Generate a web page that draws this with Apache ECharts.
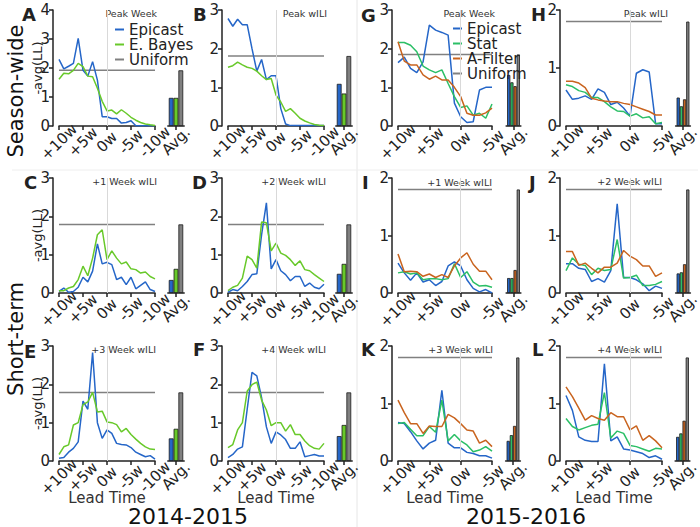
<!DOCTYPE html>
<html>
<head>
  <meta charset="UTF-8">
  <title>Epicast forecast scores</title>
  <style>
    html, body { margin: 0; padding: 0; background: #fff; }
    #chart { width: 700px; height: 527px; }
  </style>
  <script src="https://cdn.jsdelivr.net/npm/echarts@6/dist/echarts.min.js"></script>
</head>
<body>
  <div id="chart"></div>
  <script>
    // lead time (weeks before the target), left season runs +10..-10, right +10..-5
    var leadLeft = [10, 9, 8, 7, 6, 5, 4, 3, 2, 1, 0, -1, -2, -3, -4, -5, -6, -7, -8, -9, -10];
    var leadRight = [10, 9, 8, 7, 6, 5, 4, 3, 2, 1, 0, -1, -2, -3, -4, -5];

    // 2014-2015 : Epicast / E. Bayes ; avg bars = [Epicast, E. Bayes, Uniform]
    var epicastA = [2.30, 1.97, 2.06, 2.16, 3.02, 1.92, 1.72, 2.22, 1.58, 0.32, 0.32, 0.26, 0.26, 0.10, 0.12, 0.18, 0.01, 0.01, 0.01, 0.01, 0.01];
    var ebayesA = [1.61, 1.82, 1.80, 1.92, 2.16, 2.05, 1.72, 1.70, 1.30, 0.85, 0.52, 0.55, 0.42, 0.56, 0.44, 0.30, 0.20, 0.12, 0.07, 0.04, 0.02];
    var avgA = [0.97, 0.97, 1.92];

    var epicastB = [2.78, 2.58, 2.76, 2.62, 2.62, 2.00, 1.42, 1.72, 1.20, 1.30, 1.30, 0.45, 0.05, 0.01, 0.01, 0.01, 0.01, 0.01, 0.01, 0.01, 0.01];
    var ebayesB = [1.52, 1.56, 1.65, 1.58, 1.52, 1.49, 1.42, 1.30, 1.20, 1.23, 0.80, 0.62, 0.38, 0.45, 0.33, 0.20, 0.13, 0.08, 0.04, 0.02, 0.01];
    var avgB = [1.09, 0.84, 1.81];

    var epicastC = [0.04, 0.13, 0.02, 0.04, 0.15, 0.41, 0.29, 0.57, 1.28, 0.76, 0.80, 0.74, 0.35, 0.41, 0.22, 0.41, 0.11, 0.20, 0.29, 0.09, 0.04];
    var ebayesC = [0.06, 0.06, 0.13, 0.17, 0.35, 0.70, 0.45, 0.91, 1.52, 1.65, 0.87, 1.10, 0.91, 0.76, 0.81, 0.63, 0.61, 0.52, 0.55, 0.43, 0.37];
    var avgC = [0.34, 0.63, 1.79];

    var epicastD = [0.02, 0.09, 0.06, 0.17, 0.30, 0.48, 0.50, 1.52, 2.35, 0.63, 0.87, 0.58, 0.48, 0.32, 0.43, 0.43, 0.17, 0.26, 0.15, 0.11, 0.23];
    var ebayesD = [0.06, 0.15, 0.20, 0.39, 0.96, 0.87, 0.65, 1.85, 1.83, 1.10, 1.30, 1.04, 0.98, 0.87, 0.72, 0.84, 0.61, 0.58, 0.48, 0.39, 0.30];
    var avgD = [0.50, 0.76, 1.79];

    var epicastE = [0.07, 0.09, 0.23, 0.33, 0.50, 1.56, 1.35, 2.83, 1.00, 0.59, 0.81, 0.72, 0.46, 0.43, 0.42, 0.35, 0.23, 0.17, 0.11, 0.14, 0.05];
    var ebayesE = [0.17, 0.37, 0.42, 0.94, 1.00, 1.47, 1.54, 1.79, 1.28, 1.30, 1.02, 1.00, 0.95, 0.76, 0.85, 0.69, 0.57, 0.46, 0.37, 0.31, 0.30];
    var avgE = [0.59, 0.84, 1.79];

    var epicastF = [0.09, 0.17, 0.31, 0.37, 1.35, 2.31, 2.22, 1.65, 0.89, 0.46, 0.76, 0.68, 0.56, 0.33, 0.33, 0.50, 0.11, 0.14, 0.17, 0.13, 0.13];
    var ebayesF = [0.35, 0.43, 0.81, 1.00, 1.82, 1.99, 2.06, 1.59, 1.33, 0.92, 1.00, 1.00, 0.78, 0.95, 0.69, 0.69, 0.52, 0.40, 0.33, 0.31, 0.46];
    var avgF = [0.65, 0.94, 1.79];

    // 2015-2016 : Epicast / Stat / A-Filter ; avg bars = [Epicast, Stat, A-Filter, Uniform]
    var epicastG = [1.64, 1.78, 1.49, 1.38, 1.66, 2.61, 2.48, 2.42, 2.35, 0.59, 0.24, 0.09, 0.11, 0.93, 1.00, 1.00];
    var statG = [2.16, 2.16, 2.09, 1.92, 1.55, 1.45, 1.38, 1.45, 1.10, 0.76, 0.48, 0.52, 0.28, 0.33, 0.20, 0.57];
    var afilterG = [2.18, 1.68, 1.58, 1.58, 1.32, 1.21, 1.29, 1.19, 1.19, 1.00, 0.76, 0.33, 0.28, 0.28, 0.34, 0.46];
    var avgG = [1.32, 1.13, 1.03, 1.85];

    var epicastH = [0.62, 0.46, 0.48, 0.52, 0.46, 0.64, 0.58, 0.37, 0.41, 0.31, 0.17, 0.91, 0.97, 0.93, 0.04, 0.04];
    var statH = [0.71, 0.68, 0.61, 0.58, 0.49, 0.49, 0.42, 0.33, 0.26, 0.25, 0.17, 0.21, 0.14, 0.16, 0.04, 0.06];
    var afilterH = [0.77, 0.77, 0.74, 0.66, 0.48, 0.45, 0.43, 0.42, 0.42, 0.39, 0.37, 0.33, 0.29, 0.25, 0.19, 0.19];
    var avgH = [0.49, 0.34, 0.46, 1.80];

    var epicastI = [0.52, 0.35, 0.22, 0.35, 0.19, 0.23, 0.13, 0.20, 0.47, 0.54, 0.47, 0.23, 0.08, 0.02, 0.06, 0.00];
    var statI = [0.35, 0.37, 0.33, 0.35, 0.23, 0.25, 0.25, 0.23, 0.25, 0.51, 0.27, 0.37, 0.19, 0.12, 0.13, 0.10];
    var afilterI = [0.68, 0.37, 0.38, 0.37, 0.29, 0.33, 0.27, 0.32, 0.27, 0.47, 0.61, 0.70, 0.50, 0.38, 0.38, 0.23];
    var avgI = [0.26, 0.26, 0.40, 1.80];

    var epicastJ = [0.51, 0.51, 0.43, 0.41, 0.20, 0.25, 0.19, 0.39, 1.55, 0.27, 0.27, 0.23, 0.16, 0.04, 0.12, 0.08];
    var statJ = [0.39, 0.61, 0.50, 0.48, 0.32, 0.43, 0.39, 0.41, 0.93, 0.26, 0.27, 0.31, 0.13, 0.13, 0.15, 0.20];
    var afilterJ = [0.72, 0.72, 0.48, 0.52, 0.43, 0.35, 0.45, 0.45, 0.52, 0.74, 0.64, 0.58, 0.47, 0.47, 0.29, 0.35];
    var avgJ = [0.34, 0.36, 0.50, 1.80];

    var epicastK = [0.67, 0.65, 0.51, 0.35, 0.21, 0.31, 0.36, 1.23, 0.31, 0.23, 0.23, 0.15, 0.13, 0.09, 0.09, 0.05];
    var statK = [0.65, 0.67, 0.55, 0.44, 0.44, 0.60, 0.50, 1.06, 0.35, 0.46, 0.35, 0.28, 0.16, 0.19, 0.25, 0.17];
    var afilterK = [1.06, 0.84, 0.65, 0.65, 0.48, 0.61, 0.60, 0.60, 0.81, 0.75, 0.65, 0.54, 0.52, 0.31, 0.36, 0.25];
    var avgK = [0.35, 0.45, 0.61, 1.80];

    var epicastL = [1.14, 0.88, 0.42, 0.36, 0.34, 0.34, 1.69, 0.35, 0.42, 0.21, 0.19, 0.16, 0.13, 0.06, 0.09, 0.03];
    var statL = [0.74, 0.60, 0.54, 0.58, 0.62, 0.64, 1.19, 0.40, 0.52, 0.48, 0.27, 0.25, 0.21, 0.17, 0.22, 0.21];
    var afilterL = [1.29, 1.12, 0.92, 0.71, 0.79, 0.74, 0.71, 0.84, 0.77, 0.77, 0.54, 0.61, 0.36, 0.44, 0.35, 0.23];
    var avgL = [0.42, 0.48, 0.70, 1.80];

    var modelsLeft = ['Epicast', 'E. Bayes', 'Uniform'];
    var modelsRight = ['Epicast', 'Stat', 'A-Filter', 'Uniform'];

    var colors = {
      'Epicast': '#2566c8',
      'E. Bayes': '#68c92a',
      'Stat': '#2bbf66',
      'A-Filter': '#c9641f',
      'Uniform': '#808080'
    };

    var ink = '#222';
    var font = 'DejaVu Sans';

    // layout of the 12 panels (plot box + the little Avg. bar box next to it)
    var panels = [
      {lead: leadLeft, x: 59, y: 10, w: 96, h: 116, yMax: 4, barC: 176, lines: [['Epicast', epicastA], ['E. Bayes', ebayesA]], avg: avgA, models: modelsLeft, yName: true},
      {lead: leadLeft, x: 228, y: 10, w: 96, h: 116, yMax: 3, barC: 344, lines: [['Epicast', epicastB], ['E. Bayes', ebayesB]], avg: avgB, models: modelsLeft},
      {lead: leadLeft, x: 59, y: 178, w: 96, h: 115, yMax: 3, barC: 176, lines: [['Epicast', epicastC], ['E. Bayes', ebayesC]], avg: avgC, models: modelsLeft, yName: true},
      {lead: leadLeft, x: 228, y: 178, w: 96, h: 115, yMax: 3, barC: 344, lines: [['Epicast', epicastD], ['E. Bayes', ebayesD]], avg: avgD, models: modelsLeft},
      {lead: leadLeft, x: 59, y: 346, w: 96, h: 115, yMax: 3, barC: 176, lines: [['Epicast', epicastE], ['E. Bayes', ebayesE]], avg: avgE, models: modelsLeft, yName: true, xName: true},
      {lead: leadLeft, x: 228, y: 346, w: 96, h: 115, yMax: 3, barC: 344, lines: [['Epicast', epicastF], ['E. Bayes', ebayesF]], avg: avgF, models: modelsLeft, xName: true},
      {lead: leadRight, x: 398, y: 10, w: 94, h: 116, yMax: 3, barC: 513.5, lines: [['Epicast', epicastG], ['Stat', statG], ['A-Filter', afilterG]], avg: avgG, models: modelsRight},
      {lead: leadRight, x: 566, y: 10, w: 96, h: 116, yMax: 2, barC: 683, lines: [['Epicast', epicastH], ['Stat', statH], ['A-Filter', afilterH]], avg: avgH, models: modelsRight},
      {lead: leadRight, x: 398, y: 178, w: 94, h: 115, yMax: 2, barC: 513.5, lines: [['Epicast', epicastI], ['Stat', statI], ['A-Filter', afilterI]], avg: avgI, models: modelsRight},
      {lead: leadRight, x: 566, y: 178, w: 96, h: 115, yMax: 2, barC: 683, lines: [['Epicast', epicastJ], ['Stat', statJ], ['A-Filter', afilterJ]], avg: avgJ, models: modelsRight},
      {lead: leadRight, x: 398, y: 346, w: 94, h: 115, yMax: 2, barC: 513, lines: [['Epicast', epicastK], ['Stat', statK], ['A-Filter', afilterK]], avg: avgK, models: modelsRight, xName: true},
      {lead: leadRight, x: 566, y: 346, w: 96, h: 115, yMax: 2, barC: 682.5, lines: [['Epicast', epicastL], ['Stat', statL], ['A-Filter', afilterL]], avg: avgL, models: modelsRight, xName: true}
    ];

    var grid = [], xAxis = [], yAxis = [], series = [];

    function leadLabel(v) {
      return v > 0 ? '+' + v + 'w' : v + 'w';
    }

    // tilted tick labels sit centred under their tick, like the source figure
    var tiltLabel = {rotate: 45, fontSize: 15, color: ink, margin: 16, align: 'center', verticalAlign: 'middle', hideOverlap: false};

    function addPanel(p) {
      var g = grid.length;
      var n = p.lead.length;
      var axisLine = {show: true, onZero: false, lineStyle: {color: ink, width: 1.5}};
      var axisTick = {show: true, length: 4, lineStyle: {color: ink, width: 1.5}};

      grid.push({left: p.x, top: p.y, width: p.w, height: p.h, outerBoundsMode: 'none'});
      xAxis.push({
        gridIndex: g, type: 'value', inverse: true,
        min: p.lead[n - 1], max: p.lead[0], interval: 5,
        axisLine: axisLine, axisTick: axisTick, splitLine: {show: false},
        axisLabel: Object.assign({formatter: leadLabel, showMinLabel: true, showMaxLabel: true}, tiltLabel),
        name: p.xName ? 'Lead Time' : '', nameLocation: 'middle', nameGap: 29, nameMoveOverlap: false,
        nameTextStyle: {fontSize: 15, color: '#333'}
      });
      yAxis.push({
        gridIndex: g, type: 'value', min: 0, max: p.yMax, interval: 1, offset: 6,
        axisLine: axisLine, axisTick: axisTick, splitLine: {show: false},
        axisLabel: {fontSize: 15, color: ink, margin: 3, hideOverlap: false, showMinLabel: true, showMaxLabel: true},
        name: p.yName ? '-avg(LL)' : '', nameLocation: 'middle', nameGap: 9, nameRotate: 90, nameMoveOverlap: false,
        nameTextStyle: {fontSize: 13, color: ink}
      });

      var u = p.avg[p.avg.length - 1];
      series.push({
        type: 'line', name: 'Uniform', xAxisIndex: g, yAxisIndex: g,
        data: [[p.lead[0], u], [p.lead[n - 1], u]],
        symbol: 'none', lineStyle: {color: colors.Uniform, width: 1.5}, itemStyle: {color: colors.Uniform},
        markLine: {
          silent: true, symbol: ['none', 'none'], label: {show: false},
          lineStyle: {color: '#d9d9d9', width: 1, type: 'solid'},
          data: [{xAxis: 0}]
        }
      });
      p.lines.forEach(function (l) {
        series.push({
          type: 'line', name: l[0], xAxisIndex: g, yAxisIndex: g,
          data: p.lead.map(function (x, i) { return [x, l[1][i]]; }),
          symbol: 'none', lineStyle: {color: colors[l[0]], width: 1.5}, itemStyle: {color: colors[l[0]]}
        });
      });

      // Avg. bars
      var b = grid.length;
      var bw = p.models.length === 3 ? 4.8 : 3.2;
      var gw = bw * p.models.length + 2;
      grid.push({left: p.barC - gw / 2, top: p.y, width: gw, height: p.h, outerBoundsMode: 'none'});
      xAxis.push({
        gridIndex: b, type: 'category', data: ['Avg.'],
        axisLine: axisLine, axisTick: {show: true, alignWithLabel: true, length: 4, lineStyle: {color: ink, width: 1.5}},
        axisLabel: Object.assign({}, tiltLabel, {margin: 15})
      });
      yAxis.push({gridIndex: b, type: 'value', min: 0, max: p.yMax, show: false});
      p.models.forEach(function (m, k) {
        series.push({
          type: 'bar', name: m, xAxisIndex: b, yAxisIndex: b,
          data: [p.avg[k]], barWidth: bw, barGap: '0%',
          itemStyle: {color: colors[m], borderColor: '#1a1a1a', borderWidth: 0.8}
        });
      });
    }

    panels.forEach(addPanel);

    function txt(x, y, s, size, extra) {
      var style = {text: s, fontSize: size, fontFamily: font, fill: ink, align: 'left', verticalAlign: 'middle'};
      for (var k in (extra || {})) style[k] = extra[k];
      return {type: 'text', x: x, y: y, style: style, silent: true};
    }

    var bold = {fontWeight: 'bold', fontSize: 18};
    var sub = {align: 'right', fill: '#333'};
    var graphic = [
      {type: 'line', shape: {x1: 357, y1: 0, x2: 357, y2: 527}, style: {stroke: '#e6e6e6', lineWidth: 1}, silent: true},
      {type: 'line', shape: {x1: 12, y1: 170, x2: 698, y2: 170}, style: {stroke: '#eeeeee', lineWidth: 1}, silent: true},
      txt(22, 14, 'A', 18, bold), txt(193, 14, 'B', 18, bold), txt(361, 15, 'G', 18, bold), txt(531, 14, 'H', 18, bold),
      txt(24, 182, 'C', 18, bold), txt(192, 182, 'D', 18, bold), txt(362, 182, 'I', 18, bold), txt(529, 182, 'J', 18, bold),
      txt(24, 351, 'E', 18, bold), txt(193, 349, 'F', 18, bold), txt(361, 349, 'K', 18, bold), txt(532, 349, 'L', 18, bold),
      txt(157, 13, 'Peak Week', 9.5, sub), txt(327, 13, 'Peak wILI', 9.5, sub),
      txt(495, 13, 'Peak Week', 9.5, sub), txt(668, 13, 'Peak wILI', 9.5, sub),
      txt(157, 181, '+1 Week wILI', 9.5, sub), txt(326, 181, '+2 Week wILI', 9.5, sub),
      txt(492, 182, '+1 Week wILI', 9.5, sub), txt(662, 181, '+2 Week wILI', 9.5, sub),
      txt(156, 349, '+3 Week wILI', 9.5, sub), txt(326, 349, '+4 Week wILI', 9.5, sub),
      txt(493, 349, '+3 Week wILI', 9.5, sub), txt(662, 349, '+4 Week wILI', 9.5, sub),
      {type: 'text', x: 16, y: 91, rotation: Math.PI / 2, silent: true,
        style: {text: 'Season-wide', fontSize: 21, fontFamily: font, fill: '#111', align: 'center', verticalAlign: 'middle'}},
      {type: 'text', x: 16, y: 339, rotation: Math.PI / 2, silent: true,
        style: {text: 'Short-term', fontSize: 21, fontFamily: font, fill: '#111', align: 'center', verticalAlign: 'middle'}},
      txt(188, 516, '2014-2015', 22, {align: 'center', fill: '#111'}),
      txt(526, 516, '2015-2016', 22, {align: 'center', fill: '#111'})
    ];

    var legendBase = {
      orient: 'vertical', icon: 'rect', itemWidth: 9, itemHeight: 2, itemGap: 0,
      textStyle: {fontSize: 15, color: ink, lineHeight: 13.5, fontFamily: font},
      padding: 0
    };

    var myChart = echarts.init(document.getElementById('chart'), null, {renderer: 'svg'});
    myChart.setOption({
      animation: false,
      textStyle: {fontFamily: font},
      legend: [
        Object.assign({}, legendBase, {data: modelsLeft, left: 115, top: 22}),
        Object.assign({}, legendBase, {data: modelsRight, left: 453, top: 21})
      ],
      grid: grid,
      xAxis: xAxis,
      yAxis: yAxis,
      series: series,
      graphic: graphic
    });
  </script>
</body>
</html>
